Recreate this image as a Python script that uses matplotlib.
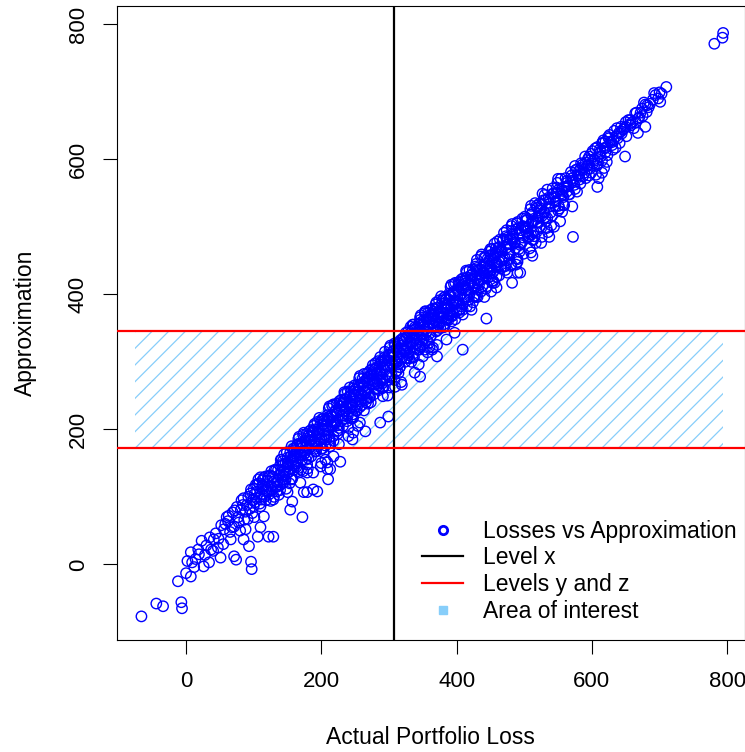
import matplotlib
matplotlib.use("Agg")
import matplotlib.pyplot as plt
from matplotlib.lines import Line2D
from matplotlib.patches import Rectangle

plt.rcParams['font.family'] = ['Liberation Sans', 'DejaVu Sans']
plt.rcParams['hatch.linewidth'] = 0.9

# (actual loss, approximation) pairs
points = [
    # low tail
    (-66, -77), (-44, -58), (-34, -62), (-7, -56), (-6, -65), (-12, -25), (0, -13),
    (7, -18), (9, 3), (7, 18), (19, 15), (26, -3), (34, 3), (37, 22), (47, 25),
    (51, 10), (41, 37), (56, 52), (62, 64), (69, 77), (66, 37), (71, 12), (74, 7),
    (71, 56), (81, 81), (85, 37), (88, 52), (93, 27), (96, 4), (97, -7), (106, 41),
    (110, 55), (122, 41), (129, 41), (91, 67), (96, 111), (107, 126), (100, 86),
    (110, 86), (115, 71), (121, 107), (129, 96), (135, 115), (144, 121), (150, 107),
    (154, 81), (157, 93), (172, 70), (140, 136), (150, 145), (159, 155), (169, 166),
    (179, 136), (188, 111), (174, 107), (199, 145), (209, 151), (210, 126), (203, 166),
    (228, 152), (213, 175), (194, 108), (179, 107), (110, 129), (169, 121), (140, 155),
    (159, 160), (188, 136), (209, 141), (218, 160), (246, 185), (247, 195),
    (60, 70), (75, 85), (82, 95), (88, 78), (95, 105), (65, 48), (78, 62), (52, 58),
    (44, 46), (30, 28), (23, 35), (14, 8),
    (103, 118), (111, 96), (117, 130), (123, 104), (129, 122), (134, 108), (138, 132),
    (113, 117), (119, 108), (126, 138), (131, 119), (137, 103), (85, 98), (90, 88),
    (98, 76), (102, 92),
    (2, 5), (12, -4), (18, 22), (28, 14), (35, 40), (40, 20), (48, 38), (55, 30),
    (58, 60), (63, 72), (68, 55), (72, 80), (77, 70), (80, 50), (84, 88), (86, 66),
    (92, 100), (94, 82), (99, 95), (101, 70), (105, 108), (109, 90), (114, 112),
    (116, 100), (120, 124), (125, 94), (128, 130), (132, 115), (136, 140), (139, 110),
    (101, 104), (105, 118), (109, 100), (113, 125), (117, 110), (122, 130), (126, 116),
    (131, 140), (135, 122), (139, 147), (143, 132), (147, 150), (151, 136), (155, 160),
    (159, 140),
    # main band
    (100, 112), (104, 98), (108, 120), (112, 104), (115, 128), (118, 95), (121, 115),
    (124, 132), (127, 110), (130, 100), (133, 140), (136, 125), (139, 118), (142, 146),
    (145, 130), (148, 112), (150, 150), (153, 138), (156, 126), (158, 160),
    (160, 172), (162, 150), (165, 178), (167, 162), (170, 140), (172, 180), (175, 168),
    (177, 155), (180, 190), (182, 172), (185, 160), (187, 196), (190, 182), (192, 168),
    (195, 200), (197, 185), (200, 150), (202, 208), (204, 192), (206, 176), (208, 214),
    (210, 198), (212, 185), (214, 220), (216, 205), (218, 190), (220, 226), (222, 212),
    (224, 198), (226, 178), (228, 234), (230, 220), (232, 205), (234, 240), (236, 228),
    (238, 212), (240, 190), (242, 250), (244, 236), (246, 222), (248, 256), (250, 242),
    (252, 228), (254, 205), (256, 264), (258, 250), (260, 236), (262, 270), (264, 256),
    (266, 240),
    (268, 276), (270, 262), (272, 248), (274, 282), (276, 268), (278, 252), (280, 290),
    (282, 275), (284, 260), (286, 296), (288, 282), (290, 268), (292, 302), (294, 288),
    (296, 272), (298, 250), (300, 310), (302, 295), (304, 280), (306, 316), (308, 300),
    (310, 285), (312, 322), (314, 308), (316, 292), (318, 270), (320, 330), (322, 316),
    (324, 300), (326, 336), (328, 322), (330, 305), (332, 342), (334, 328), (336, 312),
    (338, 348), (340, 334), (342, 318), (344, 296), (346, 356), (348, 340), (350, 325),
    (352, 362), (354, 348), (356, 332), (358, 368), (360, 354), (362, 338), (364, 318),
    (366, 374), (368, 360), (370, 345), (372, 380), (374, 366), (376, 350), (378, 386),
    (380, 372), (382, 356), (384, 392), (386, 378), (388, 362), (390, 398), (392, 384),
    (394, 368), (396, 404), (398, 390), (400, 375),
    (403, 414), (406, 400), (409, 386), (412, 420), (415, 406), (418, 392), (421, 428),
    (424, 412), (427, 398), (430, 435), (433, 420), (436, 404), (439, 442), (442, 428),
    (445, 412), (448, 450), (451, 436), (454, 420), (457, 458), (460, 444), (463, 428),
    (466, 466), (469, 452), (472, 436), (475, 474), (478, 460), (481, 444), (484, 482),
    (487, 468), (490, 452), (493, 490), (496, 476), (499, 460), (502, 498), (505, 484),
    (508, 468), (511, 506), (514, 492), (517, 476), (520, 514), (523, 500), (526, 485),
    (529, 522), (532, 508), (535, 492), (538, 530), (541, 516), (544, 500), (547, 538),
    (550, 524), (553, 508), (556, 546), (559, 532),
    (563, 560), (567, 548), (571, 568), (575, 556), (579, 576), (583, 564), (587, 584),
    (591, 572), (595, 592), (599, 580), (603, 600), (607, 590), (611, 608), (615, 598),
    (619, 616), (623, 606), (627, 626), (631, 614), (636, 634), (641, 624), (646, 644),
    (651, 634), (656, 652), (662, 646), (668, 660), (675, 664), (682, 680), (690, 688),
    (698, 690),
    # second pass through the band
    (141, 155), (144, 138), (147, 125), (150, 158), (153, 120), (156, 175), (159, 147),
    (162, 164), (165, 138), (168, 179), (171, 154), (174, 195), (177, 174), (180, 142),
    (183, 189), (186, 177), (189, 205), (192, 167), (195, 195), (198, 184), (201, 215),
    (204, 198), (207, 185), (210, 218), (213, 180), (216, 235), (219, 207), (222, 224),
    (225, 198), (228, 239), (231, 214), (234, 255), (237, 234), (240, 202), (243, 249),
    (246, 237), (249, 265), (252, 227), (255, 255), (258, 244), (261, 275), (264, 258),
    (267, 245), (270, 278), (273, 240), (276, 295), (279, 267), (282, 284), (285, 258),
    (288, 299), (291, 274), (294, 315), (297, 294), (300, 262), (303, 309), (306, 297),
    (309, 325), (312, 287), (315, 315), (318, 304), (321, 335), (324, 318), (327, 305),
    (330, 338), (333, 300), (336, 355), (339, 327), (342, 344), (345, 318), (348, 359),
    (351, 334), (354, 375), (357, 354), (360, 322), (363, 369), (366, 357), (369, 385),
    (372, 347), (375, 375), (378, 364), (381, 395), (384, 378), (387, 365), (390, 398),
    (393, 360), (396, 415), (399, 387), (402, 404), (405, 378), (408, 419), (411, 394),
    (414, 435), (417, 414), (420, 382), (423, 429), (426, 417), (429, 445), (432, 407),
    (435, 435), (438, 424), (441, 455), (444, 438), (447, 425), (450, 458), (453, 420),
    (456, 475), (459, 447), (462, 464), (465, 438), (468, 479), (471, 454), (474, 495),
    (477, 474), (480, 442), (483, 489), (486, 477), (489, 505), (492, 467), (495, 495),
    (498, 484), (501, 515), (504, 498), (507, 485), (510, 518), (513, 480), (516, 535),
    (519, 507), (522, 524), (525, 498), (528, 539), (531, 514), (534, 555), (537, 534),
    (540, 502), (543, 549), (546, 537), (549, 565), (552, 527), (555, 555), (558, 544),
    # third pass through the band
    (142, 146), (145, 163), (148, 133), (151, 150), (154, 166), (157, 127), (160, 169),
    (163, 144), (166, 186), (169, 162), (172, 173), (175, 164), (178, 193), (181, 157),
    (184, 189), (187, 191), (190, 208), (193, 178), (196, 195), (199, 211), (202, 172),
    (205, 214), (208, 189), (211, 231), (214, 207), (217, 218), (220, 209), (223, 238),
    (226, 202), (229, 234), (232, 236), (235, 253), (238, 223), (241, 240), (244, 256),
    (247, 217), (250, 259), (253, 234), (256, 276), (259, 252), (262, 263), (265, 254),
    (268, 283), (271, 247), (274, 279), (277, 281), (280, 298), (283, 268), (286, 285),
    (289, 301), (292, 262), (295, 304), (298, 279), (301, 321), (304, 297), (307, 308),
    (310, 299), (313, 328), (316, 292), (319, 324), (322, 326), (325, 343), (328, 313),
    (331, 330), (334, 346), (337, 307), (340, 349), (343, 324), (346, 366), (349, 342),
    (352, 353), (355, 344), (358, 373), (361, 337), (364, 369), (367, 371), (370, 388),
    (373, 358), (376, 375), (379, 391), (382, 352), (385, 394), (388, 369), (391, 411),
    (394, 387), (397, 398), (400, 389), (403, 418), (406, 382), (409, 414), (412, 416),
    (415, 433), (418, 403), (421, 420), (424, 436), (427, 397), (430, 439), (433, 414),
    (436, 456), (439, 432), (442, 443), (445, 434), (448, 463), (451, 427), (454, 459),
    (457, 461), (460, 478), (463, 448), (466, 465), (469, 481), (472, 442), (475, 484),
    (478, 459), (481, 501),
    (563, 568), (566, 548), (569, 581), (572, 566), (575, 590), (578, 552), (581, 583),
    (584, 594), (587, 575), (590, 604), (593, 590), (596, 576), (599, 608), (602, 594),
    (605, 616), (609, 594), (612, 615), (616, 624), (620, 610), (625, 631), (629, 625),
    (633, 642), (638, 631), (643, 648), (648, 646), (654, 658), (660, 655), (666, 669),
    (672, 669), (679, 681), (686, 682), (694, 695),
    # fourth pass through the band
    (143, 153), (146, 126), (149, 166), (152, 148), (155, 126), (158, 171), (161, 146),
    (164, 167), (167, 189), (170, 161), (173, 138), (176, 183), (179, 161), (182, 197),
    (185, 184), (188, 198), (191, 171), (194, 211), (197, 193), (200, 171), (203, 216),
    (206, 191), (209, 212), (212, 234), (215, 206), (218, 183), (221, 228), (224, 206),
    (227, 242), (230, 229), (233, 243), (236, 216), (239, 256), (242, 238), (245, 216),
    (248, 261), (251, 236), (254, 257), (257, 279), (260, 251), (263, 228), (266, 273),
    (269, 251), (272, 287), (275, 274), (278, 288), (281, 261), (284, 301), (287, 283),
    (290, 261), (293, 306), (296, 281), (299, 302), (302, 324), (305, 296), (308, 273),
    (311, 318), (314, 296), (317, 332), (320, 319), (323, 333), (326, 306), (329, 346),
    (332, 328), (335, 306), (338, 351), (341, 326), (344, 347), (347, 369), (350, 341),
    (353, 318), (356, 363), (359, 341), (362, 377), (365, 364), (368, 378), (371, 351),
    (374, 391), (377, 373), (380, 351), (383, 396), (386, 371), (389, 392), (392, 414),
    (395, 386), (398, 363), (401, 408), (404, 386), (407, 422), (410, 409), (413, 423),
    (416, 396), (419, 436), (422, 418), (425, 396), (428, 441), (431, 416), (434, 437),
    (437, 459), (440, 431), (443, 408), (446, 453), (449, 431), (452, 467), (455, 454),
    (458, 468), (461, 441), (464, 481), (467, 463), (470, 441), (473, 486), (476, 461),
    (479, 482), (482, 504), (485, 476), (488, 453), (491, 498), (494, 476), (497, 512),
    (500, 499), (503, 513), (506, 486), (509, 526), (512, 508), (515, 486), (518, 531),
    (521, 506), (524, 527), (527, 549), (530, 521), (533, 498), (536, 543), (539, 521),
    (542, 557), (545, 544), (548, 558), (551, 531), (554, 571), (557, 553),
    # fifth pass, densest stretch
    (161, 159), (164, 176), (167, 143), (170, 176), (173, 192), (176, 165), (179, 148),
    (182, 183), (185, 199), (188, 181), (191, 200), (194, 175), (197, 217), (200, 187),
    (203, 207), (206, 204), (209, 221), (212, 188), (215, 221), (218, 237), (221, 210),
    (224, 193), (227, 228), (230, 244), (233, 226), (236, 245), (239, 220), (242, 262),
    (245, 232), (248, 252), (251, 249), (254, 266), (257, 233), (260, 266), (263, 282),
    (266, 255), (269, 238), (272, 273), (275, 289), (278, 271), (281, 290), (284, 265),
    (287, 307), (290, 277), (293, 297), (296, 294), (299, 311), (302, 278), (305, 311),
    (308, 327), (311, 300), (314, 283), (317, 318), (320, 334), (323, 316), (326, 335),
    (329, 310), (332, 352), (335, 322), (338, 342), (341, 339), (344, 356), (347, 323),
    (350, 356), (353, 372), (356, 345), (359, 328), (362, 363), (365, 379), (368, 361),
    (371, 380), (374, 355), (377, 397), (380, 367), (383, 387), (386, 384), (389, 401),
    (392, 368), (395, 401), (398, 417), (401, 390), (404, 373), (407, 408), (410, 424),
    (413, 406), (416, 425), (419, 400),
    # sixth pass, upper half of the band
    (422, 429), (426, 410), (430, 451), (434, 429), (438, 412), (442, 454), (446, 436),
    (450, 467), (454, 433), (458, 461), (462, 469), (466, 450), (470, 491), (474, 469),
    (478, 452), (482, 494), (486, 476), (490, 507), (494, 473), (498, 501), (502, 509),
    (506, 490), (510, 531), (514, 509), (518, 492), (522, 534), (526, 516), (530, 547),
    (534, 513), (538, 541), (542, 549), (546, 530), (550, 571), (554, 549), (558, 532),
    (561, 572), (565, 560), (570, 576), (574, 562), (578, 585), (582, 570), (586, 592),
    (589, 580), (594, 600), (597, 586), (601, 612), (604, 598), (608, 618), (613, 604),
    (617, 628), (621, 618), (626, 636), (632, 628), (637, 646), (644, 638), (650, 655),
    (657, 650), (664, 668), (670, 662), (677, 684), (684, 677), (692, 698), (700, 699),
    # upper tail and stragglers
    (710, 707), (703, 697), (701, 685), (681, 670), (674, 675), (679, 648), (668, 639),
    (665, 655), (657, 658), (650, 648), (643, 641), (640, 639), (649, 604), (624, 633),
    (620, 626), (630, 621), (635, 617), (615, 624), (613, 611), (622, 596), (618, 587),
    (615, 580), (606, 577), (610, 572), (608, 559), (598, 599), (596, 604), (591, 595),
    (584, 587), (576, 584), (581, 574), (571, 572), (563, 565), (559, 559), (551, 555),
    (547, 550), (556, 547), (563, 552), (571, 530), (556, 522), (532, 540), (526, 533),
    (519, 528), (512, 521), (522, 515), (504, 510), (498, 500), (503, 493), (510, 488),
    (512, 481), (525, 476), (537, 485), (572, 485), (488, 496), (482, 485), (474, 481),
    (463, 470), (460, 462), (493, 463), (510, 462), (512, 457), (490, 448), (488, 444),
    (494, 432), (475, 432), (482, 417), (453, 451), (449, 441), (441, 432), (434, 422),
    (456, 417), (459, 410), (451, 404), (441, 396), (431, 396), (424, 388), (415, 382),
    (404, 377), (409, 370), (422, 377), (444, 364), (390, 370), (385, 362), (375, 358),
    (365, 352), (353, 374), (346, 362), (335, 355), (409, 318), (397, 343), (385, 333),
    (371, 325), (365, 321), (357, 314), (350, 308), (394, 373), (409, 377), (429, 396),
    (453, 417), (459, 426), (490, 432), (371, 308), (346, 278), (338, 284), (319, 266),
    (309, 263), (299, 219), (287, 210), (265, 197), (291, 249), (257, 210), (247, 219),
    (213, 141), (206, 155), (794, 787), (793, 780), (781, 771),
]

loss = [p[0] for p in points]
approx = [p[1] for p in points]

level_x = 307
level_y = 172
level_z = 345
area_left = -75
area_right = 794

fs = 16.5
tick_fs = 16

fig = plt.figure(figsize=(7.45, 7.52), dpi=100)
ax = fig.add_axes([0.1567, 0.1489, 0.843, 0.8432])

# shaded band between the two levels
ax.add_patch(Rectangle((area_left, level_y), area_right - area_left, level_z - level_y,
                       facecolor='none', edgecolor='#87CEFA', hatch='//', linewidth=0))
ax.scatter(loss, approx, s=56, facecolors='none', edgecolors='#0000FF', linewidths=1.0, zorder=3)
ax.axvline(level_x, color='black', lw=1.6, zorder=4)
ax.axhline(level_y, color='#FF0000', lw=1.6, zorder=4)
ax.axhline(level_z, color='#FF0000', lw=1.6, zorder=4)

ax.set_xlim(-102.5, 826)
ax.set_ylim(-112, 827)
ax.set_xticks([0, 200, 400, 600, 800])
ax.set_yticks([0, 200, 400, 600, 800])
ax.tick_params(direction='out', length=10, width=0.8, labelsize=tick_fs)
ax.tick_params(axis='x', pad=12)
ax.tick_params(axis='y', pad=10)
for lab in ax.get_yticklabels():
    lab.set_rotation(90)
    lab.set_va('center')
ax.set_xlabel('Actual Portfolio Loss', fontsize=fs, labelpad=25)
ax.set_ylabel('Approximation', fontsize=fs, labelpad=22)

handles = [
    Line2D([], [], ls='none', marker='o', ms=6, mfc='none', mec='#0000FF', mew=2),
    Line2D([], [], color='black', lw=1.6),
    Line2D([], [], color='#FF0000', lw=1.6),
    Line2D([], [], ls='none', marker='s', ms=6, mfc='#87CEFA', mec='#87CEFA'),
]
ax.legend(handles, ['Losses vs Approximation', 'Level x', 'Levels y and z', 'Area of interest'],
          loc='lower right', bbox_to_anchor=(1.001, 0.012), frameon=False, fontsize=fs,
          labelspacing=0.17, handlelength=1.8, handletextpad=0.85, borderaxespad=0.0)

fig.savefig('out.png', dpi=100)
